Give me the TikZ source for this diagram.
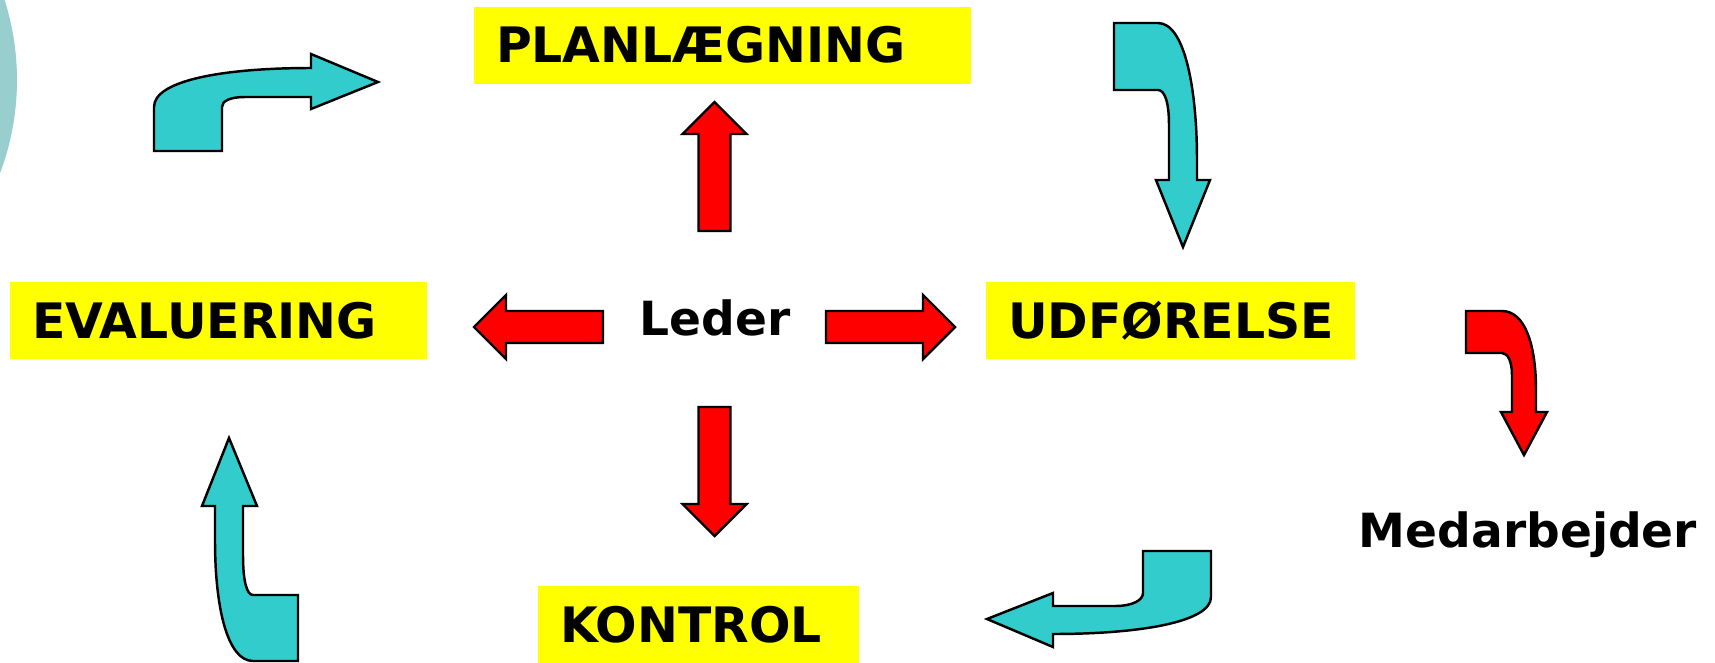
\documentclass[tikz,border=0pt]{standalone}
\usepackage{fontspec}
\setmainfont{DejaVu Sans}
\definecolor{cyanfill}{RGB}{51,204,204}
\definecolor{ringfill}{RGB}{153,206,206}
\definecolor{boxyellow}{RGB}{255,255,0}

\begin{document}
\begin{tikzpicture}[
    x=0.1mm, y=-0.1mm,
    phase/.style={fill=boxyellow, font=\bfseries\fontsize{13.9}{16}\selectfont,
        text height=10.1pt, text depth=0pt, inner xsep=2.2mm, inner ysep=0pt,
        minimum height=7.7mm, align=left},
    role/.style={font=\bfseries\fontsize{13.4}{16}\selectfont,
        text height=9.8pt, text depth=0pt, inner sep=0pt},
    turn/.style={fill=cyanfill, draw=black, line width=0.7pt},
    redturn/.style={fill=red, draw=black, line width=0.7pt},
    blockarrow/.pic={
        \filldraw[redturn] (0,-16) -- (97,-16) -- (97,-32) -- (129,0)
            -- (97,32) -- (97,16) -- (0,16) -- cycle;
    }
]
    \useasboundingbox (0,0) rectangle (1715,663);

    % Circle cut off at the left edge
    \begin{scope}
        \clip (0,0) rectangle (1715,663);
        \fill[ringfill] (-246,80) circle (26.3mm);
    \end{scope}

    % Phases
    \node[phase, text width=45.3mm, minimum width=49.7mm] (plan) at (722.5,45) {PLANLÆGNING};
    \node[phase, text width=37.3mm, minimum width=41.7mm] (eval) at (218.5,320.5) {EVALUERING};
    \node[phase, text width=32.5mm, minimum width=36.9mm] (udf) at (1170.5,320.5) {UDFØRELSE};
    \node[phase, text width=27.7mm, minimum width=32.1mm] (kontrol) at (698.5,624.5) {KONTROL};

    % Roles
    \node[role] (leder) at (715,318.5) {Leder};
    \node[role] (medarb) at (1528,530) {Medarbejder};

    % From Leder
    \pic[rotate=90]  at (714.5,231) {blockarrow};
    \pic[rotate=-90] at (714.5,407) {blockarrow};
    \pic[rotate=180] at (603,327)   {blockarrow};
    \pic             at (826,327)   {blockarrow};

    % Cycle: evaluering -> planlaegning
    \draw[turn] (154,151) -- (154,107) .. controls (154,80) and (225,68) .. (311,68)
        -- (311,54) -- (378,82) -- (311,109) -- (311,97) -- (245,97)
        .. controls (230,97) and (222,101) .. (222,107) -- (222,151) -- cycle;

    % Cycle: planlaegning -> udfoerelse
    \draw[turn] (1114,23) -- (1158,23) .. controls (1185,23) and (1197,90) .. (1197,160)
        -- (1197,180) -- (1210,180) -- (1183,247) -- (1156,180) -- (1169,180)
        -- (1169,125) .. controls (1169,100) and (1164,90) .. (1158,90) -- (1114,90) -- cycle;

    % Udfoerelse -> medarbejder
    \draw[redturn] (1466,311) -- (1502,311) .. controls (1525,311) and (1536,345) .. (1536,390)
        -- (1536,412) -- (1547,412) -- (1524,455) -- (1501,412) -- (1512,412)
        -- (1512,375) .. controls (1512,362) and (1508,353) .. (1502,353) -- (1466,353) -- cycle;

    % Cycle: medarbejder -> kontrol
    \draw[turn] (1143,551) -- (1211,551) -- (1211,597) .. controls (1211,622) and (1140,634) .. (1053,634)
        -- (1053,647) -- (987,619) -- (1053,593) -- (1053,606) -- (1115,606)
        .. controls (1133,606) and (1143,600) .. (1143,593) -- cycle;

    % Cycle: kontrol -> evaluering
    \draw[turn] (298,661) -- (253,661) .. controls (228,661) and (215,610) .. (215,540)
        -- (215,506) -- (202,506) -- (229,438) -- (257,506) -- (243,506)
        -- (243,555) .. controls (243,582) and (247,595) .. (253,595) -- (298,595) -- cycle;

\end{tikzpicture}
\end{document}
